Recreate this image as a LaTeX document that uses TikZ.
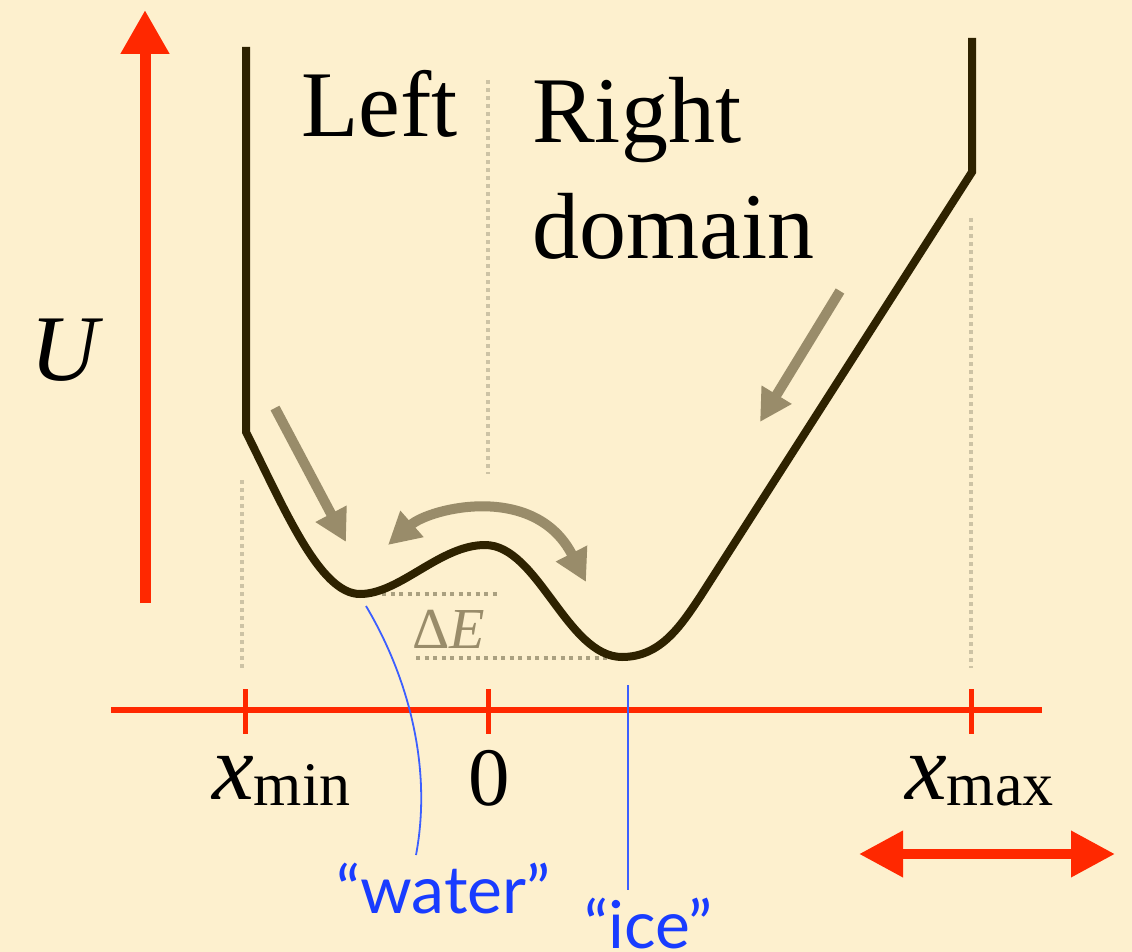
\documentclass[tikz,border=0pt]{standalone}
\usepackage{fontspec}
\setmainfont{Liberation Serif}
\newfontfamily\gillfont{Lato}
\usetikzlibrary{arrows.meta}
\definecolor{bg}{RGB}{253,240,206}
\definecolor{potred}{RGB}{255,40,0}
\definecolor{curvecol}{RGB}{46,34,0}
\definecolor{arrgray}{RGB}{153,140,106}
\definecolor{dotlight}{RGB}{205,195,165}
\definecolor{dotdark}{RGB}{170,160,128}
\definecolor{labblue}{RGB}{25,60,255}
\definecolor{lineblue}{RGB}{60,95,255}
\tikzset{
  bigtext/.style={inner sep=0pt, anchor=base west, font=\fontsize{94}{115}\selectfont},
  bluetext/.style={inner sep=0pt, anchor=base west, text=labblue, font=\gillfont\fontsize{66}{70}\selectfont},
  vdots/.style={draw=dotlight, line width=4pt, dash pattern=on 4pt off 4pt},
  hdots/.style={draw=dotdark, line width=4pt, dash pattern=on 4pt off 4.5pt},
  potential/.style={draw=curvecol, line width=8pt, line join=miter},
  grayarrow/.style={draw=arrgray, line width=10pt, -{Triangle[length=32pt,width=33pt]}},
  grayarrowtwo/.style={draw=arrgray, line width=10pt, {Triangle[length=32pt,width=33pt]}-{Triangle[length=32pt,width=33pt]}},
  redarrow/.style={draw=potred, line width=11pt, -{Triangle[length=44pt,width=46pt]}},
  redarrowtwo/.style={draw=potred, line width=10pt, {Triangle[length=44pt,width=44pt]}-{Triangle[length=44pt,width=44pt]}},
  axisline/.style={draw=potred, line width=6pt},
  tickline/.style={draw=potred, line width=5pt},
  blueline/.style={draw=lineblue, line width=1.8pt}
}
\begin{document}
\begin{tikzpicture}[x=1pt,y=-1pt]
\fill[bg] (0,0) rectangle (1132,952);
\useasboundingbox (0,0) rectangle (1132,952);

% dotted guide lines
\draw[vdots] (488,80) -- (488,474);
\draw[vdots] (242,480) -- (242,668);
\draw[vdots] (971,218) -- (971,668);
\draw[hdots] (382,594) -- (498,594);
\draw[hdots] (416,658) -- (630,658);

% potential curve
\draw[potential] (246,47) -- (246,432)
  .. controls (285,510) and (320,594) .. (360,594)
  .. controls (400,594) and (440,545) .. (485,545)
  .. controls (538,545) and (567,657) .. (622,657)
  .. controls (660,657) and (680,627) .. (700,597)
  -- (972,172) -- (972,38);

% gray arrows
\coordinate (ga1s) at (275,408);
\coordinate (ga1e) at (346,542);
\coordinate (ga2s) at (840,291);
\coordinate (ga2e) at (760,422);
\coordinate (gbl) at (388,545);
\coordinate (gbr) at (586,582);
\draw[grayarrow] (ga1s) -- (ga1e);
\draw[grayarrow] (ga2s) -- (ga2e);
\draw[grayarrowtwo] (gbl) .. controls (430,508) and (535,482) .. (gbr);

% vertical U arrow
\coordinate (ub) at (145,603);
\coordinate (ut) at (145,10);
\draw[redarrow] (ub) -- (ut);

% x axis
\coordinate (axl) at (111,710);
\coordinate (axr) at (1042,710);
\draw[axisline] (axl) -- (axr);
\draw[tickline] (245.5,689) -- (245.5,734);
\draw[tickline] (488,689) -- (488,734);
\draw[tickline] (971.5,689) -- (971.5,734);

% bottom double arrow
\coordinate (dal) at (859,854);
\coordinate (dar) at (1115,854);
\draw[redarrowtwo] (dal) -- (dar);

% texts
\node[bigtext] (left) at (301,137) {Left};
\node[bigtext] (right) at (532,143) {Right};
\node[bigtext] (domain) at (532,258) {domain};
\node[bigtext, font=\fontsize{94}{115}\selectfont\itshape] (U) at (30,380) {U};
\node[inner sep=0pt, anchor=base west, text=arrgray, font=\fontsize{58}{60}\selectfont] (dE) at (412,648) {Δ\textit{E}};
\node[bigtext] (xmin) at (212,799) {\textit{x}\raisebox{-6pt}{\fontsize{62}{62}\selectfont min}};
\node[inner sep=0pt, anchor=base, font=\fontsize{83}{90}\selectfont] (zero) at (489,805) {0};
\node[bigtext] (xmax) at (905,799) {\textit{x}\raisebox{-6pt}{\fontsize{62}{62}\selectfont max}};

\node[bluetext] (water) at (336,913) {“water”};
\node[bluetext] (ice) at (584,948) {“ice”};

% blue leader lines
\coordinate (wtop) at (366,606);
\coordinate (wbot) at (416,855);
\draw[blueline] (wtop) .. controls (410,680) and (432,770) .. (wbot);
\coordinate (itop) at (628,685);
\coordinate (ibot) at (628,890);
\draw[blueline] (itop) -- (ibot);
\end{tikzpicture}
\end{document}
